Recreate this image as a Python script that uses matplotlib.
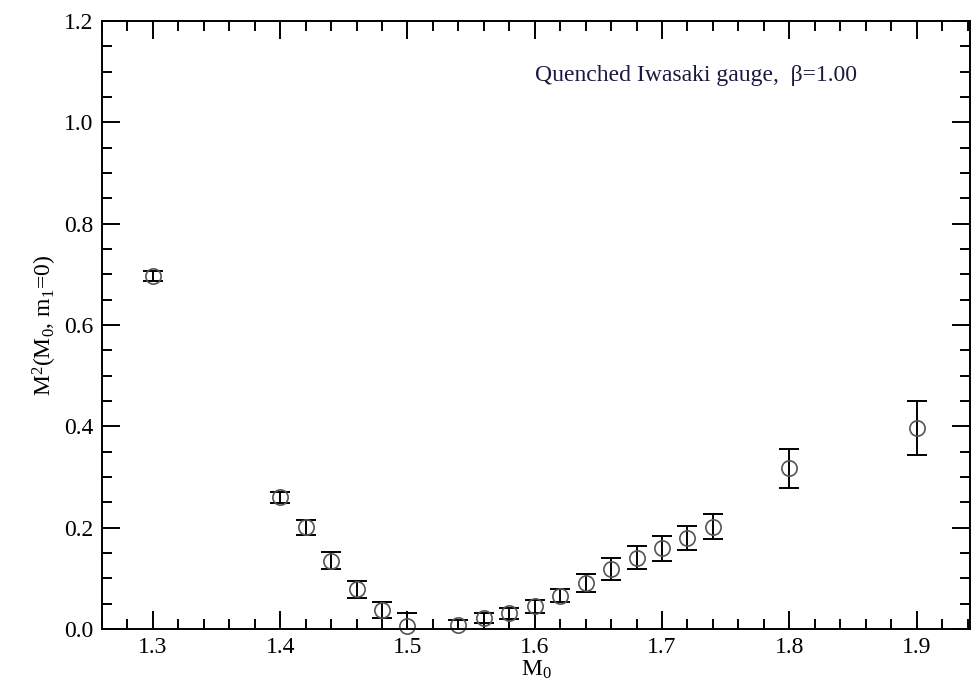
import numpy as np
import matplotlib
matplotlib.use("Agg")
import matplotlib.pyplot as plt
from matplotlib.ticker import MultipleLocator, FormatStrFormatter

plt.rcParams['font.family'] = ['Liberation Serif', 'DejaVu Serif']
plt.rcParams['mathtext.fontset'] = 'custom'
plt.rcParams['mathtext.rm'] = 'Liberation Serif'
plt.rcParams['mathtext.default'] = 'regular'

# M0 values, squared mass at m1=0 and its errors
m0 = [1.30, 1.40, 1.42, 1.44, 1.46, 1.48, 1.50, 1.54, 1.56, 1.58, 1.60,
      1.62, 1.64, 1.66, 1.68, 1.70, 1.72, 1.74, 1.80, 1.90]
msq = [0.697, 0.260, 0.201, 0.135, 0.078, 0.038, 0.006, 0.007, 0.021, 0.031, 0.045,
       0.066, 0.091, 0.118, 0.141, 0.159, 0.179, 0.202, 0.317, 0.396]
msq_err = [0.010, 0.011, 0.015, 0.016, 0.016, 0.016, 0.025, 0.010, 0.010, 0.011, 0.013,
           0.012, 0.018, 0.022, 0.022, 0.024, 0.024, 0.024, 0.039, 0.053]

fig = plt.figure(figsize=(9.76, 6.88), dpi=100)
ax = fig.add_axes([0.1045, 0.0858, 0.8894, 0.8837])

ax.errorbar(m0, msq, yerr=msq_err, fmt='none', ecolor='black', elinewidth=1.4,
            capsize=7, capthick=1.4)
# open circles left unclipped so the points near zero stay whole
ax.plot(m0, msq, 'o', mfc='none', mec='#555555', mew=1.2, ms=11, clip_on=False)

ax.set_xlim(1.26, 1.942)
ax.set_ylim(0.0, 1.2)
ax.xaxis.set_major_locator(MultipleLocator(0.1))
ax.xaxis.set_minor_locator(MultipleLocator(0.02))
ax.yaxis.set_major_locator(MultipleLocator(0.2))
ax.yaxis.set_minor_locator(MultipleLocator(0.05))
ax.xaxis.set_major_formatter(FormatStrFormatter('%.1f'))
ax.yaxis.set_major_formatter(FormatStrFormatter('%.1f'))

ax.tick_params(which='both', direction='in', top=True, right=True, width=1.4,
               labelsize=17, pad=6)
ax.tick_params(which='major', length=13)
ax.tick_params(which='minor', length=7)
for s in ax.spines.values():
    s.set_linewidth(1.4)

ax.set_xlabel('M$_0$', fontsize=17, labelpad=0)
ax.set_ylabel('M$^2$(M$_0$, m$_1$=0)', fontsize=17, labelpad=4)

ax.text(0.499, 0.911, 'Quenched Iwasaki gauge,  β=1.00', transform=ax.transAxes,
        ha='left', va='center', fontsize=17, color='#1a1a40')

fig.savefig('out.png', dpi=100)
